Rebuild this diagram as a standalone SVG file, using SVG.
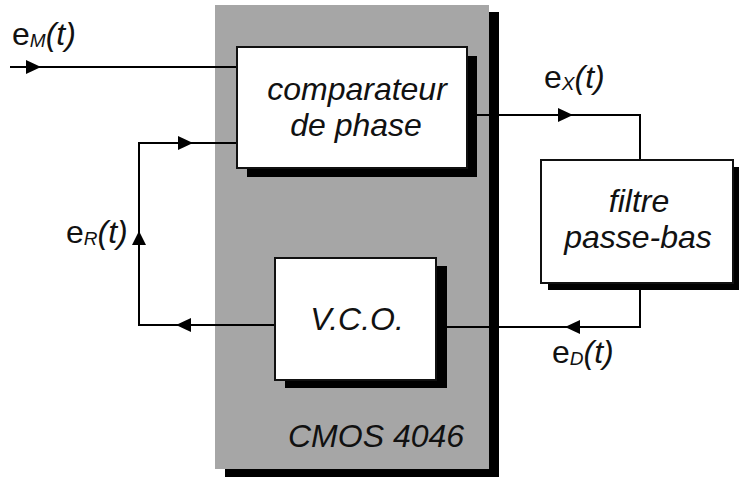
<svg xmlns="http://www.w3.org/2000/svg" width="743" height="479" viewBox="0 0 743 479">
<style>
.shadow{fill:#000}
.box{fill:#fff;stroke:#111;stroke-width:2}
.wire{fill:none;stroke:#000;stroke-width:2}
.head{fill:#000;stroke:none}
.t{font-family:"Liberation Sans",Arial,sans-serif;font-style:italic;font-size:32px;fill:#111}
.lbl{font-family:"Liberation Sans",Arial,sans-serif;font-size:32px;fill:#111}
.sub{font-size:19px;font-style:italic}
.it{font-style:italic}
</style>
<g id="cmos4046">
<rect class="shadow" x="225" y="12" width="274" height="465"/>
<rect x="215" y="5" width="274" height="464" fill="#a6a6a6"/>
<text class="t" x="288" y="447">CMOS 4046</text>
</g>
<g id="connectors">
<path class="wire" d="M10 67H237"/>
<path class="head" d="M41 67L26 60V74Z"/>
<path class="wire" d="M237 143H139V325H275"/>
<path class="head" d="M193 143L178 136V150Z"/>
<path class="head" d="M139 231L132 245H146Z"/>
<path class="head" d="M176 325L191 318V332Z"/>
<path class="wire" d="M467 115H640V160"/>
<path class="head" d="M573 115L558 108V122Z"/>
<path class="wire" d="M640 283V327H436"/>
<path class="head" d="M565 327L580 320V334Z"/>
</g>
<g id="comparateur">
<rect class="shadow" x="247" y="56" width="230" height="121"/>
<rect class="box" x="237" y="47" width="230" height="121"/>
<text class="t" x="357" y="100" text-anchor="middle">comparateur</text>
<text class="t" x="356" y="136" text-anchor="middle">de phase</text>
</g>
<g id="vco">
<rect class="shadow" x="285" y="266" width="162" height="122"/>
<rect class="box" x="275" y="258" width="161" height="122"/>
<text class="t" x="357" y="330" text-anchor="middle" font-size="30">V.C.O.</text>
</g>
<g id="filtre">
<rect class="shadow" x="548" y="167" width="191" height="123"/>
<rect class="box" x="541" y="160" width="192" height="123"/>
<text class="t" x="639" y="212" text-anchor="middle">filtre</text>
<text class="t" x="638" y="248" text-anchor="middle">passe-bas</text>
</g>
<g id="labels">
<text class="lbl" x="12" y="45">e<tspan class="sub" dy="2">M</tspan><tspan class="it" dy="-2">(t)</tspan></text>
<text class="lbl" x="544" y="88">e<tspan class="sub" dy="2">X</tspan><tspan class="it" dy="-2">(t)</tspan></text>
<text class="lbl" x="66" y="243">e<tspan class="sub" dy="2">R</tspan><tspan class="it" dy="-2">(t)</tspan></text>
<text class="lbl" x="552" y="363">e<tspan class="sub" dy="2">D</tspan><tspan class="it" dy="-2">(t)</tspan></text>
</g>
</svg>
